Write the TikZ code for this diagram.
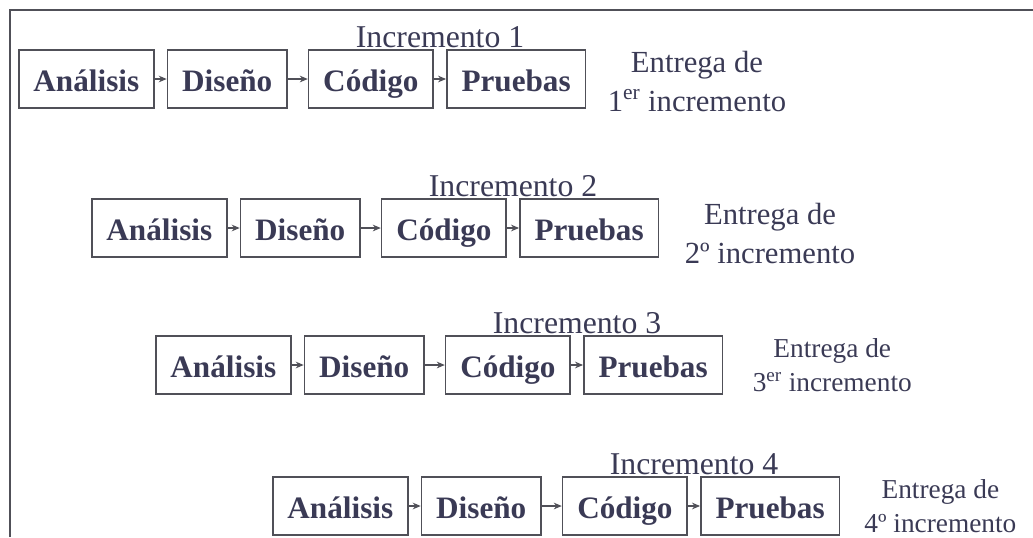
\documentclass[tikz,border=0pt]{standalone}
\usepackage{fontspec}
\setmainfont{Liberation Serif}
\usetikzlibrary{positioning,arrows.meta}
\definecolor{textslate}{HTML}{3A3A55}
\definecolor{boxgray}{HTML}{505058}
\tikzset{
  fase/.style={draw=boxgray, line width=1.2pt, text=textslate,
    font=\fontsize{23.4}{28}\selectfont\bfseries,
    minimum height=43.5pt, inner xsep=11pt,
    text height=22pt, text depth=3.5pt},
  flecha/.style={-{Stealth[length=6pt,width=5pt]}, line width=0.9pt, draw=boxgray},
  incremento/.style={text=textslate, font=\fontsize{23.8}{28}\selectfont,
    anchor=south, inner sep=0.5pt},
  entrega/.style={text=textslate, font=\fontsize{23}{29}\selectfont,
    align=center, inner sep=0pt},
  entregachica/.style={entrega, font=\fontsize{20.5}{26}\selectfont},
}
\begin{document}
\begin{tikzpicture}[x=0.75pt,y=-0.75pt]
\useasboundingbox (0,0) rectangle (1033,537);
\draw[line width=2pt, boxgray] (10,537) -- (10,10) -- (1033,10);

% Incremento 1
\node[fase, anchor=west] (ana1) at (18,79) {Análisis};
\node[fase, right=9pt of ana1] (dis1) {Diseño};
\node[fase, right=15pt of dis1] (cod1) {Código};
\node[fase, right=9pt of cod1] (pru1) {Pruebas};
\draw[flecha] (ana1.east) -- (dis1.west);
\draw[flecha] (dis1.east) -- (cod1.west);
\draw[flecha] (cod1.east) -- (pru1.west);
\path (cod1.north east) -- node[incremento] (inc1) {Incremento 1} (pru1.north west);
\node[entrega, right=16pt of pru1, yshift=-2pt] (ent1) {Entrega de\\1\textsuperscript{er} incremento};

% Incremento 2
\node[fase, anchor=west] (ana2) at (91,228) {Análisis};
\node[fase, right=9pt of ana2] (dis2) {Diseño};
\node[fase, right=15pt of dis2] (cod2) {Código};
\node[fase, right=9pt of cod2] (pru2) {Pruebas};
\draw[flecha] (ana2.east) -- (dis2.west);
\draw[flecha] (dis2.east) -- (cod2.west);
\draw[flecha] (cod2.east) -- (pru2.west);
\path (cod2.north east) -- node[incremento] (inc2) {Incremento 2} (pru2.north west);
\node[entrega, right=19pt of pru2, yshift=-4pt] (ent2) {Entrega de\\2º incremento};

% Incremento 3
\node[fase, anchor=west] (ana3) at (155,365) {Análisis};
\node[fase, right=9pt of ana3] (dis3) {Diseño};
\node[fase, right=15pt of dis3] (cod3) {Código};
\node[fase, right=9pt of cod3] (pru3) {Pruebas};
\draw[flecha] (ana3.east) -- (dis3.west);
\draw[flecha] (dis3.east) -- (cod3.west);
\draw[flecha] (cod3.east) -- (pru3.west);
\path (cod3.north east) -- node[incremento] (inc3) {Incremento 3} (pru3.north west);
\node[entregachica, right=22pt of pru3] (ent3) {Entrega de\\3\textsuperscript{er} incremento};

% Incremento 4
\node[fase, anchor=west] (ana4) at (272,506) {Análisis};
\node[fase, right=9pt of ana4] (dis4) {Diseño};
\node[fase, right=15pt of dis4] (cod4) {Código};
\node[fase, right=9pt of cod4] (pru4) {Pruebas};
\draw[flecha] (ana4.east) -- (dis4.west);
\draw[flecha] (dis4.east) -- (cod4.west);
\draw[flecha] (cod4.east) -- (pru4.west);
\path (cod4.north east) -- node[incremento] (inc4) {Incremento 4} (pru4.north west);
\node[entregachica, right=18pt of pru4] (ent4) {Entrega de\\4º incremento};
\end{tikzpicture}
\end{document}
